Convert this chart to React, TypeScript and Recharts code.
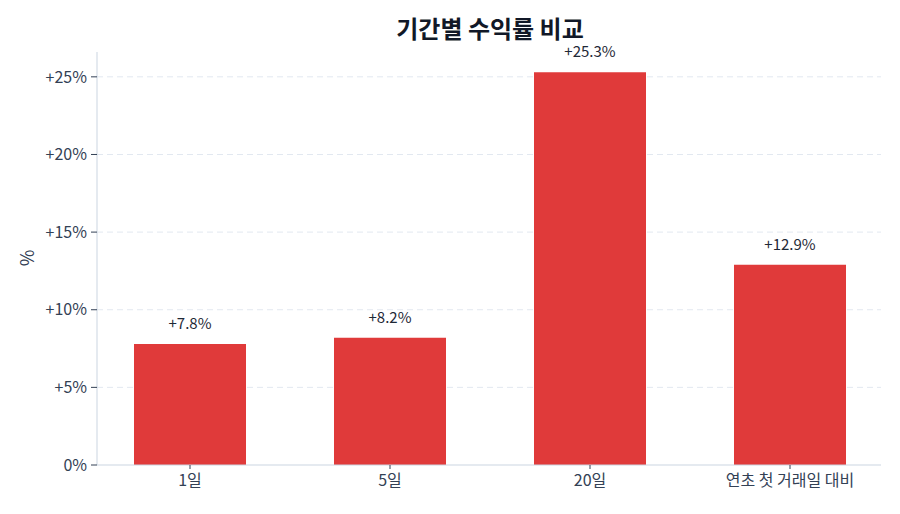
import { BarChart, Bar, XAxis, YAxis, CartesianGrid, LabelList } from 'recharts'

const categories = ['1일', '5일', '20일', '연초 첫 거래일 대비']
const returns = [7.8, 8.2, 25.3, 12.9]
const yTicks = [0, 5, 10, 15, 20, 25]

const data = categories.map((name, i) => ({ x: i, name, value: returns[i] }))

const FONT = '"Noto Sans CJK KR", "Noto Sans", sans-serif'
const TEXT = '#334155'

const fmtPct = (v: number) => (v === 0 ? '0%' : `+${v}%`)

export default function App() {
  return (
    <div style={{ position: 'absolute', left: 0, top: 0, width: 900, height: 514, background: '#fff', fontFamily: FONT }}>
      <div
        style={{
          position: 'absolute', left: 97, width: 786, top: 10, textAlign: 'center',
          fontSize: 24, fontWeight: 700, color: '#111827', lineHeight: '36px',
        }}
      >
        기간별 수익률 비교
      </div>
      <div
        style={{
          position: 'absolute', left: 26, top: 258, transform: 'translate(-50%, -50%) rotate(-90deg)',
          fontSize: 18, color: TEXT, lineHeight: '20px',
        }}
      >
        %
      </div>
      <BarChart width={900} height={514} data={data} margin={{ top: 52, right: 19, bottom: 0, left: 0 }}>
        <CartesianGrid vertical={false} stroke="#e2e8f0" strokeDasharray="6 4" horizontalValues={[5, 10, 15, 20, 25]} />
        <XAxis
          dataKey="x"
          type="number"
          domain={[-0.465, 3.455]}
          ticks={[0, 1, 2, 3]}
          tickFormatter={(v: number) => categories[v]}
          height={49}
          stroke="#cbd5e1"
          tick={{ fontSize: 16, fill: TEXT, fontFamily: FONT }}
          tickLine={{ stroke: TEXT }}
          tickSize={4}
          tickMargin={6}
          allowDataOverflow
        />
        <YAxis
          type="number"
          domain={[0, 26.6]}
          ticks={yTicks}
          tickFormatter={fmtPct}
          width={97}
          stroke="#cbd5e1"
          tick={{ fontSize: 16, fill: TEXT, fontFamily: FONT }}
          tickLine={{ stroke: TEXT }}
          tickSize={6}
          tickMargin={4}
          allowDataOverflow
        />
        <Bar dataKey="value" fill="#e03a3a" barSize={112} isAnimationActive={false}>
          <LabelList
            dataKey="value"
            position="top"
            offset={15}
            formatter={(v: number) => `+${v.toFixed(1)}%`}
            style={{ fontSize: 15, fill: '#1f2937', fontFamily: FONT }}
          />
        </Bar>
      </BarChart>
    </div>
  )
}
